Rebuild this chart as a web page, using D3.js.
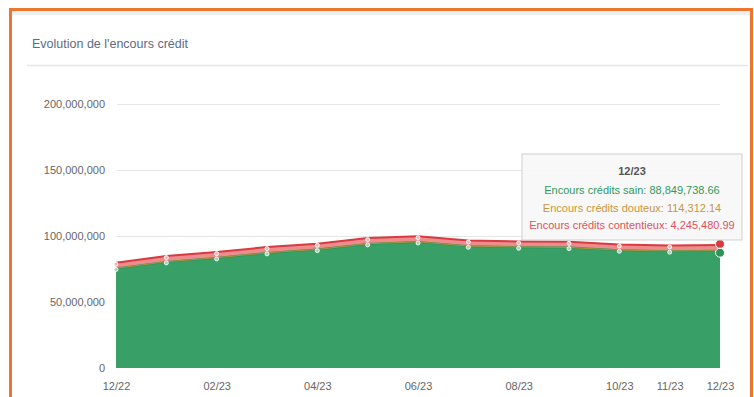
<!DOCTYPE html>
<html>
<head>
<meta charset="utf-8">
<script src="https://cdn.jsdelivr.net/npm/d3@7"></script>
<style>
  body { margin: 0; background: #fff; font-family: "Liberation Sans", Arial, sans-serif; }
  svg { display: block; }
</style>
</head>
<body>
<div id="chart"></div>
<script>
// Chart data
var months = ["12/22", "01/23", "02/23", "03/23", "04/23", "05/23", "06/23",
  "07/23", "08/23", "09/23", "10/23", "11/23", "12/23"];
var shownTicks = ["12/22", "02/23", "04/23", "06/23", "08/23", "10/23", "11/23", "12/23"];
var sain = [75400000, 80400000, 83400000, 87200000, 89700000, 94000000, 95500000,
  92200000, 91500000, 91200000, 89200000, 88500000, 88849738.66];
var douteux = [120000, 118000, 117000, 116000, 116000, 115000, 115000,
  115000, 114500, 114500, 114400, 114300, 114312.14];
var contentieux = [4300000, 4300000, 4300000, 4300000, 4300000, 4280000, 4280000,
  4270000, 4260000, 4260000, 4250000, 4250000, 4245480.99];
var yTicks = [0, 50000000, 100000000, 150000000, 200000000];

var seriesNames = ["Encours crédits sain", "Encours crédits douteux", "Encours crédits contentieux"];
var seriesColors = ["#2f9a5c", "#c8963c", "#e0525a"];

var svgWidth = 754;
var svgHeight = 397;

var svg = d3.select("#chart")
  .append("svg")
  .attr("width", svgWidth)
  .attr("height", svgHeight);

// card frame
svg.append("rect").attr("x", 10).attr("y", 10).attr("width", 741).attr("height", 5).attr("fill", "#f0f0f0");
svg.append("line").attr("x1", 27).attr("x2", 748).attr("y1", 65.5).attr("y2", 65.5)
  .attr("stroke", "#e6e6e6").attr("stroke-width", 1.5);
svg.append("path")
  .attr("d", "M10.5,397 V9.5 H751.5 V397")
  .attr("fill", "none")
  .attr("stroke", "#ee7530")
  .attr("stroke-width", 3);

svg.append("text")
  .attr("x", 32).attr("y", 48)
  .attr("font-size", 12.5)
  .attr("fill", "#5c6b85")
  .text("Evolution de l'encours crédit");

// scales
var x = d3.scalePoint().domain(months).range([116, 720]);
var y = d3.scaleLinear().domain([0, 200000000]).range([368, 104]);

// grid + y labels
var leftAxis = d3.axisLeft(y).tickValues(yTicks).tickSize(0).tickPadding(0)
  .tickFormat(d3.format(","));
var yAxis = svg.append("g").attr("transform", "translate(105,0)").call(leftAxis);
yAxis.select(".domain").remove();
yAxis.selectAll("text").attr("font-size", 11).attr("fill", "#666")
  .attr("font-family", "Liberation Sans, Arial, sans-serif");

svg.append("g").selectAll("line")
  .data(yTicks.slice(1))
  .enter().append("line")
  .attr("x1", 117).attr("x2", 720)
  .attr("y1", d => Math.round(y(d)) + 0.5).attr("y2", d => Math.round(y(d)) + 0.5)
  .attr("stroke", "#e6e6e6");

// stacked data
var rows = months.map(function (m, i) {
  return { month: m, sain: sain[i], douteux: douteux[i], contentieux: contentieux[i] };
});
var stack = d3.stack().keys(["sain", "douteux", "contentieux"]);
var layers = stack(rows);

var area = d3.area()
  .x(d => x(d.data.month))
  .y0(d => y(d[0]))
  .y1(d => y(d[1]));
var topLine = d3.line()
  .x(d => x(d.data.month))
  .y(d => y(d[1]));

var fills = ["#38a066", "#e8c48a", "#ec8c8c"];
var strokes = ["#2e9158", "#c8963c", "#d93a40"];

layers.forEach(function (layer, i) {
  svg.append("path").datum(layer).attr("d", area).attr("fill", fills[i]);
});
layers.forEach(function (layer, i) {
  svg.append("path").datum(layer).attr("d", topLine)
    .attr("fill", "none").attr("stroke", strokes[i]).attr("stroke-width", i === 1 ? 0.8 : 2);
});

// small markers
[layers[0], layers[2]].forEach(function (layer, k) {
  svg.append("g").selectAll("circle")
    .data(layer.slice(0, layer.length - 1))
    .enter().append("circle")
    .attr("cx", d => x(d.data.month))
    .attr("cy", d => y(d[1]) + (k === 0 ? 1 : 1.5))
    .attr("r", 2)
    .attr("fill", k === 0 ? "#9fd3b3" : "#f4b8b8")
    .attr("stroke", "#fff")
    .attr("stroke-width", 0.9);
});

// hovered markers at last point
var last = months.length - 1;
[layers[2], layers[0]].forEach(function (layer, k) {
  svg.append("circle")
    .attr("cx", x(months[last]))
    .attr("cy", y(layer[last][1]) + (k === 0 ? -1 : 2))
    .attr("r", 4.5)
    .attr("fill", k === 0 ? "#d93a40" : "#2e9158")
    .attr("stroke", "#fff")
    .attr("stroke-width", 1);
});

// x labels
var bottomAxis = d3.axisBottom(x).tickValues(shownTicks).tickSize(0).tickPadding(0);
var xAxis = svg.append("g").attr("transform", "translate(0,390)").call(bottomAxis);
xAxis.select(".domain").remove();
xAxis.selectAll("text").attr("font-size", 11).attr("fill", "#666").attr("dy", 0)
  .attr("font-family", "Liberation Sans, Arial, sans-serif");

// tooltip
var tip = svg.append("g").attr("transform", "translate(522,154)");
tip.append("rect")
  .attr("width", 220).attr("height", 86)
  .attr("fill", "rgba(247,247,247,0.9)")
  .attr("stroke", "#cfcfcf");
tip.append("text").attr("x", 110).attr("y", 21).attr("text-anchor", "middle")
  .attr("font-size", 11).attr("font-weight", "bold").attr("fill", "#555").text(months[last]);
var tipValues = [sain[last], douteux[last], contentieux[last]];
var fmt = d3.format(",.2f");
seriesNames.forEach(function (name, i) {
  tip.append("text")
    .attr("x", 110).attr("y", 40 + i * 17.5)
    .attr("text-anchor", "middle")
    .attr("font-size", 11)
    .attr("fill", seriesColors[i])
    .text(name + ": " + fmt(tipValues[i]));
});
</script>
</body>
</html>
